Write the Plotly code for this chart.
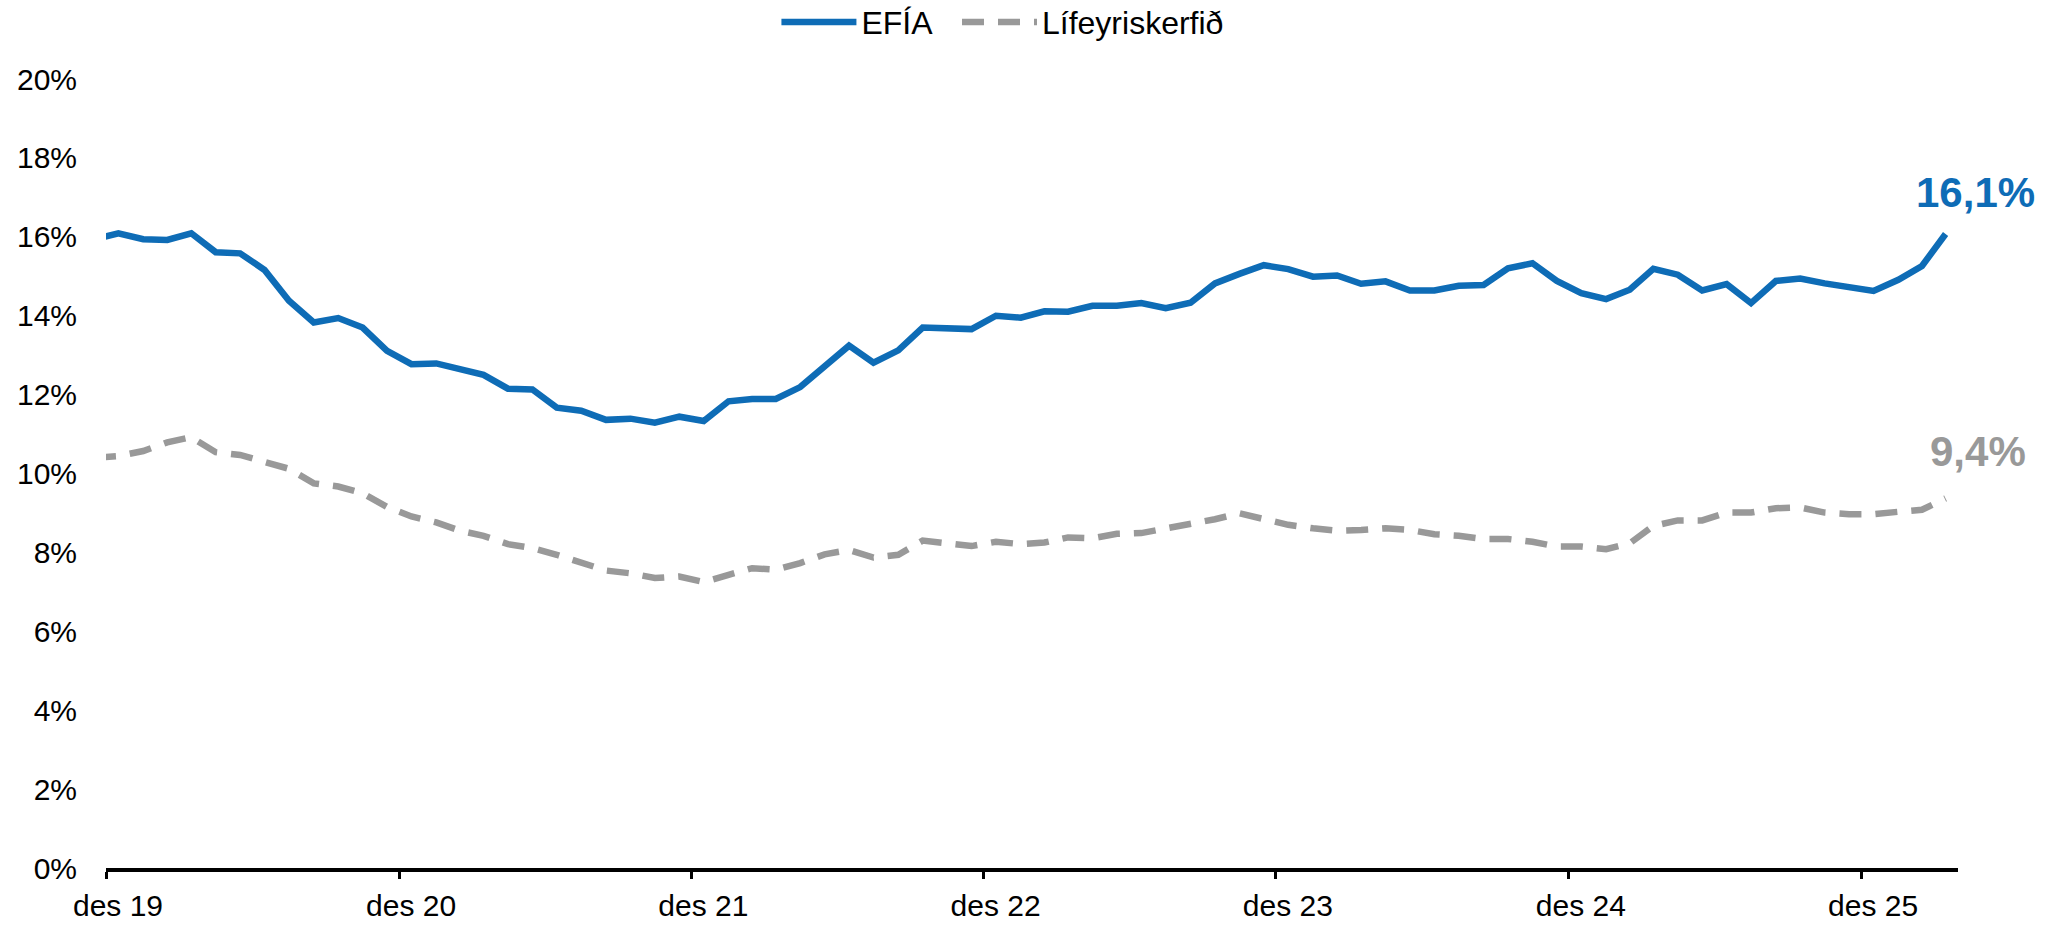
import pandas as pd
import plotly.graph_objects as go

# ---- data ----
months = [str(p) for p in pd.period_range("2019-11", "2026-03", freq="M")]

efia = [15.93,
        16.09, 15.94, 15.92, 16.09, 15.61, 15.58, 15.16, 14.38, 13.83, 13.94, 13.70, 13.11,
        12.77, 12.79, 12.65, 12.50, 12.15, 12.13, 11.67, 11.59, 11.36, 11.39, 11.29, 11.44,
        11.33, 11.83, 11.89, 11.89, 12.19, 12.71, 13.24, 12.81, 13.12, 13.70, 13.70, 13.66,
        14.00, 13.95, 14.11, 14.10, 14.25, 14.25, 14.32, 14.19, 14.33, 14.82, 15.06, 15.28,
        15.18, 14.99, 15.02, 14.81, 14.87, 14.64, 14.64, 14.76, 14.78, 15.20, 15.33, 14.88,
        14.57, 14.42, 14.66, 15.19, 15.04, 14.64, 14.80, 14.32, 14.88, 14.94, 14.82, 14.72,
        14.63, 14.91, 15.26, 16.07]

lifeyrir = [10.40,
            10.44, 10.57, 10.79, 10.92, 10.54, 10.47, 10.28, 10.12, 9.75, 9.67, 9.50, 9.15,
            8.91, 8.76, 8.55, 8.42, 8.21, 8.11, 7.94, 7.75, 7.54, 7.47, 7.35, 7.39,
            7.25, 7.43, 7.60, 7.56, 7.73, 7.95, 8.06, 7.87, 7.94, 8.30, 8.22, 8.16,
            8.27, 8.21, 8.25, 8.38, 8.36, 8.47, 8.49, 8.60, 8.71, 8.84, 8.99, 8.84,
            8.70, 8.61, 8.55, 8.57, 8.61, 8.57, 8.46, 8.42, 8.34, 8.34, 8.27, 8.15,
            8.15, 8.08, 8.23, 8.67, 8.81, 8.81, 9.01, 9.01, 9.12, 9.14, 9.01, 8.97,
            8.97, 9.03, 9.08, 9.37]

series_names = ["EFÍA", "Lífeyriskerfið"]
tick_dates = ["2019-12-01", "2020-12-01", "2021-12-01", "2022-12-01",
              "2023-12-01", "2024-12-01", "2025-12-01"]
tick_text = ["des 19", "des 20", "des 21", "des 22", "des 23", "des 24", "des 25"]
y_ticks = list(range(0, 21, 2))
y_tick_text = [f"{v}%" for v in y_ticks]

BLUE = "#0E6CB6"
GRAY = "#999999"
FONT = "Liberation Sans, Arial, sans-serif"

fig = go.Figure()
fig.add_trace(go.Scatter(
    x=months, y=efia, name=series_names[0], mode="lines",
    xperiod="M1", xperiodalignment="middle", showlegend=True,
    line=dict(color=BLUE, width=6.5), legend="legend",
))
fig.add_trace(go.Scatter(
    x=months, y=lifeyrir, name=series_names[1], mode="lines",
    xperiod="M1", xperiodalignment="middle", showlegend=True,
    line=dict(color=GRAY, width=6.5, dash="22px,14px"), legend="legend2",
))

def fmt(v):
    return f"{v:.1f}".replace(".", ",") + "%"

fig.add_annotation(x=months[-1], y=efia[-1], text=f"<b>{fmt(efia[-1])}</b>",
                   showarrow=False, xanchor="center", yanchor="middle",
                   xshift=42, yshift=42,
                   font=dict(family=FONT, size=42, color=BLUE))
fig.add_annotation(x=months[-1], y=lifeyrir[-1], text=f"<b>{fmt(lifeyrir[-1])}</b>",
                   showarrow=False, xanchor="center", yanchor="middle",
                   xshift=45, yshift=47,
                   font=dict(family=FONT, size=42, color=GRAY))

legend_common = dict(orientation="h", xanchor="left", y=1.072, yanchor="middle",
                     font=dict(size=32), itemwidth=75, bgcolor="rgba(0,0,0,0)")

fig.update_layout(
    width=2056, height=925,
    showlegend=True,
    margin=dict(l=106, r=98, t=79, b=57, autoexpand=False),
    paper_bgcolor="white", plot_bgcolor="white",
    font=dict(family=FONT, size=30, color="black"),
    legend=dict(x=0.362, **legend_common),
    legend2=dict(x=0.4595, **legend_common),
    xaxis=dict(
        type="date", range=["2019-12-01", "2026-04-01"],
        tickmode="array", tickvals=tick_dates, ticktext=tick_text,
        showgrid=False, zeroline=False, automargin=False,
        showline=True, linecolor="black", linewidth=4,
        ticks="outside", ticklen=7, tickwidth=3, tickcolor="black",
        ticklabelshift=12, ticklabelstandoff=1,
        tickfont=dict(size=30, color="black"),
    ),
    yaxis=dict(
        range=[0, 20], tickmode="array", tickvals=y_ticks, ticktext=y_tick_text,
        showgrid=False, zeroline=False, showline=False, ticks="", automargin=False,
        ticklabelstandoff=28,
        tickfont=dict(size=30, color="black"),
    ),
)

fig.write_html("out.html", config={"displayModeBar": False},
               post_script="document.body.style.margin='0';")
